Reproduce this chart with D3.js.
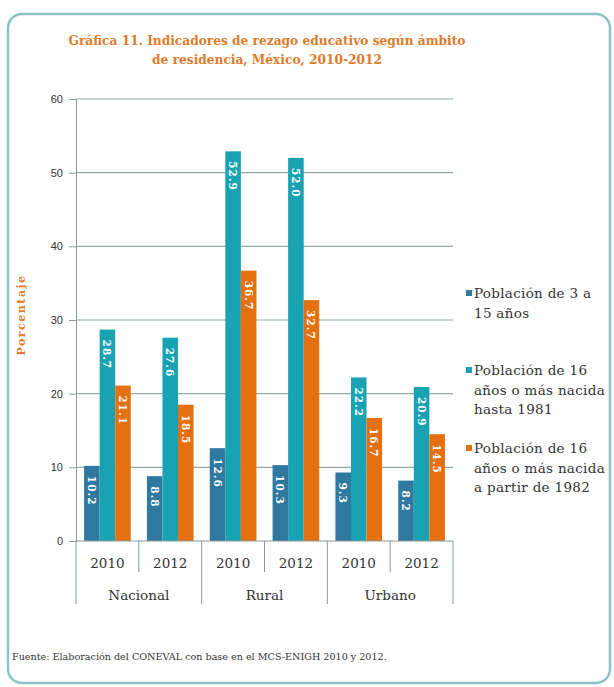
<!DOCTYPE html>
<html>
<head>
<meta charset="utf-8">
<script src="https://cdnjs.cloudflare.com/ajax/libs/d3/7.8.5/d3.min.js"></script>
<style>
  body { margin: 0; background: #fff; }
  svg text { font-family: "DejaVu Serif", serif; }
</style>
</head>
<body>
<svg id="chart" width="614" height="687"></svg>
<script>
// datos
const ambitos = ['Nacional', 'Rural', 'Urbano']
const anios = ['2010', '2012']
const series = ['Población de 3 a 15 años',
                'Población de 16 años o más nacida hasta 1981',
                'Población de 16 años o más nacida a partir de 1982']
const pob3a15   = [10.2, 8.8, 12.6, 10.3, 9.3, 8.2]
const hasta1981 = [28.7, 27.6, 52.9, 52.0, 22.2, 20.9]
const desde1982 = [21.1, 18.5, 36.7, 32.7, 16.7, 14.5]
const yTicks = [0, 10, 20, 30, 40, 50, 60]
const legendLines = [['Población de 3 a', '15 años'],
                     ['Población de 16', 'años o más nacida', 'hasta 1981'],
                     ['Población de 16', 'años o más nacida', 'a partir de 1982']]

const colors = ['#2f78a0', '#19a2b1', '#e4700f']
const values = [pob3a15, hasta1981, desde1982]

let svg = d3.select('#chart')

// marco redondeado
svg.append('rect')
  .attr('x', 8).attr('y', 14).attr('width', 602).attr('height', 669)
  .attr('rx', 14).attr('fill', '#fff')
  .attr('stroke', '#8cc3c4').attr('stroke-width', 2.5)

// título
let title = svg.append('text')
  .attr('text-anchor', 'middle')
  .attr('fill', '#e07b2a')
  .style('font-size', '12.2px')
  .style('font-weight', 'bold')
title.append('tspan').attr('x', 267).attr('y', 45).text('Gráfica 11. Indicadores de rezago educativo según ámbito')
title.append('tspan').attr('x', 267).attr('y', 64).text('de residencia,  México, 2010-2012')

let plot = { left: 76, right: 453, top: 99, bottom: 541 }

let cells = d3.cross(ambitos, anios).map(d => d.join('-'))

let x0 = d3.scaleBand().domain(cells).range([plot.left, plot.right])
let x1 = d3.scaleBand().domain(d3.range(3))
  .range([0, x0.bandwidth()]).paddingOuter(0.52).paddingInner(0)
let y = d3.scaleLinear().domain([0, 60]).range([plot.bottom, plot.top])

// rejilla
svg.append('g')
  .selectAll('line')
  .data(yTicks.filter(t => t > 0))
  .join('line')
  .attr('x1', plot.left).attr('x2', plot.right)
  .attr('y1', d => y(d)).attr('y2', d => y(d))
  .attr('stroke', '#8faaa9').attr('stroke-width', 1.2)

// eje y
let yAxis = svg.append('g')
  .attr('transform', `translate(${plot.left},0)`)
  .call(d3.axisLeft(y).tickValues(yTicks).tickSize(7).tickPadding(6))
yAxis.select('.domain').attr('stroke', '#8a9a9a')
yAxis.selectAll('.tick line').attr('stroke', '#8a9a9a')
yAxis.selectAll('.tick text')
  .style('font-family', '"Liberation Sans", sans-serif')
  .style('font-size', '11px').attr('fill', '#333')

svg.append('text')
  .attr('transform', 'translate(25,315) rotate(-90)')
  .attr('text-anchor', 'middle')
  .attr('fill', '#e07b2a')
  .style('font-size', '11px').style('font-weight', 'bold')
  .style('letter-spacing', '1.5px')
  .text('Porcentaje')

// barras
let groups = svg.append('g')
  .selectAll('g')
  .data(cells)
  .join('g')
  .attr('transform', d => `translate(${x0(d)},0)`)

groups.each(function(c, i) {
  let g = d3.select(this)
  values.forEach((vals, s) => {
    let v = vals[i]
    g.append('rect')
      .attr('x', x1(s)).attr('width', x1.bandwidth())
      .attr('y', y(v)).attr('height', y(0) - y(v))
      .attr('fill', colors[s])
    g.append('text')
      .attr('transform', `translate(${x1(s) + x1.bandwidth() / 2 - 4},${y(v) + 10}) rotate(90)`)
      .attr('fill', '#fff')
      .style('font-size', '10.5px').style('font-weight', 'bold')
      .style('letter-spacing', '1px')
      .text(v.toFixed(1))
  })
})

// eje x categórico
svg.append('line')
  .attr('x1', plot.left).attr('x2', plot.right)
  .attr('y1', plot.bottom).attr('y2', plot.bottom)
  .attr('stroke', '#8a9a9a').attr('stroke-width', 1.2)

let seps = svg.append('g').attr('stroke', '#8a9a9a')
cells.forEach((c, i) => {
  let xx = x0(c)
  seps.append('line')
    .attr('x1', xx).attr('x2', xx)
    .attr('y1', plot.bottom).attr('y2', i % 2 === 0 ? 604 : 572)
})
seps.append('line')
  .attr('x1', plot.right).attr('x2', plot.right)
  .attr('y1', plot.bottom).attr('y2', 604)

svg.append('g')
  .selectAll('text')
  .data(cells)
  .join('text')
  .attr('x', d => x0(d) + x0.bandwidth() / 2)
  .attr('y', 568)
  .attr('text-anchor', 'middle')
  .attr('fill', '#333')
  .style('font-size', '13.5px')
  .text(d => d.split('-')[1])

svg.append('g')
  .selectAll('text')
  .data(ambitos)
  .join('text')
  .attr('x', d => x0(d + '-2010') + x0.bandwidth())
  .attr('y', 600)
  .attr('text-anchor', 'middle')
  .attr('fill', '#333')
  .style('font-size', '13.5px')
  .text(d => d)

// leyenda
let legendY = [298, 375, 453]
let legend = svg.append('g')
legendLines.forEach((lines, s) => {
  legend.append('rect')
    .attr('x', 466).attr('y', legendY[s] - 8)
    .attr('width', 6).attr('height', 6)
    .attr('fill', colors[s])
  let t = legend.append('text')
    .attr('fill', '#333')
    .style('font-size', '13.5px')
    .style('letter-spacing', '0.3px')
  lines.forEach((l, k) => {
    t.append('tspan').attr('x', 474).attr('y', legendY[s] + k * 19.5).text(l)
  })
})

// fuente
svg.append('text')
  .attr('x', 12).attr('y', 660)
  .attr('fill', '#333')
  .style('font-size', '9.6px')
  .text('Fuente: Elaboración del CONEVAL con base en el MCS-ENIGH 2010 y 2012.')
</script>
</body>
</html>
